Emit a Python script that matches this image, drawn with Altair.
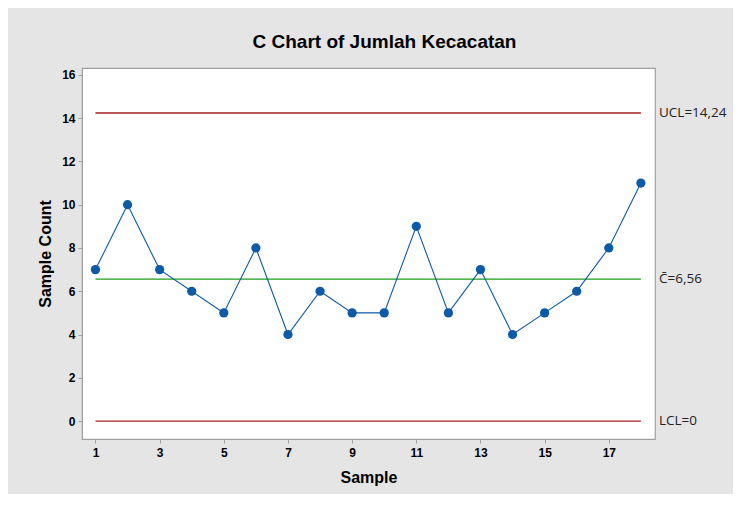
import altair as alt
import pandas as pd

samples = list(range(1, 19))
counts = [7, 10, 7, 6, 5, 8, 4, 6, 5, 5, 9, 5, 7, 4, 5, 6, 8, 11]

limit_names = ["UCL", "CL", "LCL"]
limit_values = [14.24, 6.556, 0.0]
limit_labels = ["UCL=14,24", "C\u0304=6,56", "LCL=0"]
limit_colors = ["#a3201f", "#1e9e1e", "#a3201f"]

x_ticks = [1, 3, 5, 7, 9, 11, 13, 15, 17]
y_ticks = [0, 2, 4, 6, 8, 10, 12, 14, 16]

pts = pd.DataFrame({"Sample": samples, "Count": counts})
lim = pd.DataFrame({"name": limit_names, "value": limit_values,
                    "label": limit_labels, "color": limit_colors,
                    "start": [samples[0]] * 3, "end": [samples[-1]] * 3})

W, H = 573, 371
AX = "#a0a0a0"
FONT = "Liberation Sans"

xscale = alt.Scale(domain=[0.58, 18.44], nice=False, zero=False)
yscale = alt.Scale(domain=[-0.83, 16.32], nice=False, zero=False)

xaxis = alt.Axis(values=x_ticks, title="Sample", grid=False, labelFont=FONT,
                 labelFontWeight="bold", labelFontSize=12, labelColor="#000",
                 titleFont=FONT, titleFontSize=16, titleFontWeight="bold",
                 titleColor="#000", domainColor=AX, tickColor=AX, tickSize=4,
                 labelPadding=4, titlePadding=11, labelFlush=False)
yaxis = alt.Axis(values=y_ticks, title="Sample Count", grid=False, labelFont=FONT,
                 labelFontWeight="bold", labelFontSize=12, labelColor="#000",
                 titleFont=FONT, titleFontSize=16, titleFontWeight="bold",
                 titleColor="#000", domainColor=AX, tickColor=AX, tickSize=4,
                 labelPadding=3, titlePadding=8, labelFlush=False)

rules = alt.Chart(lim).mark_rule(strokeWidth=1.3).encode(
    x=alt.X("start:Q", scale=xscale, axis=xaxis),
    x2="end:Q",
    y=alt.Y("value:Q", scale=yscale, axis=yaxis),
    color=alt.Color("color:N", scale=None),
)

labels = alt.Chart(lim).mark_text(align="left", baseline="middle", font="Open Sans",
                                  fontSize=13.5, color="#222").encode(
    x=alt.value(W + 4),
    y=alt.Y("value:Q", scale=yscale),
    text="label:N",
)

line = alt.Chart(pts).mark_line(color="#0d5aa7", strokeWidth=1.1).encode(
    x=alt.X("Sample:Q", scale=xscale),
    y=alt.Y("Count:Q", scale=yscale),
)
dots = alt.Chart(pts).mark_circle(color="#0d5aa7", opacity=1, size=85).encode(
    x=alt.X("Sample:Q", scale=xscale),
    y=alt.Y("Count:Q", scale=yscale),
)

chart = alt.layer(rules, line, dots, labels).properties(
    width=W, height=H,
    title=alt.TitleParams("C Chart of Jumlah Kecacatan", font=FONT, fontSize=19,
                          fontWeight="bold", color="#000", offset=16, dx=16,
                          anchor="middle"),
    padding={"left": 74, "top": 60, "right": 78, "bottom": 55},
    autosize="none",
    background="#e5e5e5",
).configure_view(stroke=AX, fill="white", strokeWidth=1.2)

chart.save("out.html", embed_options={"renderer": "svg", "actions": False})
